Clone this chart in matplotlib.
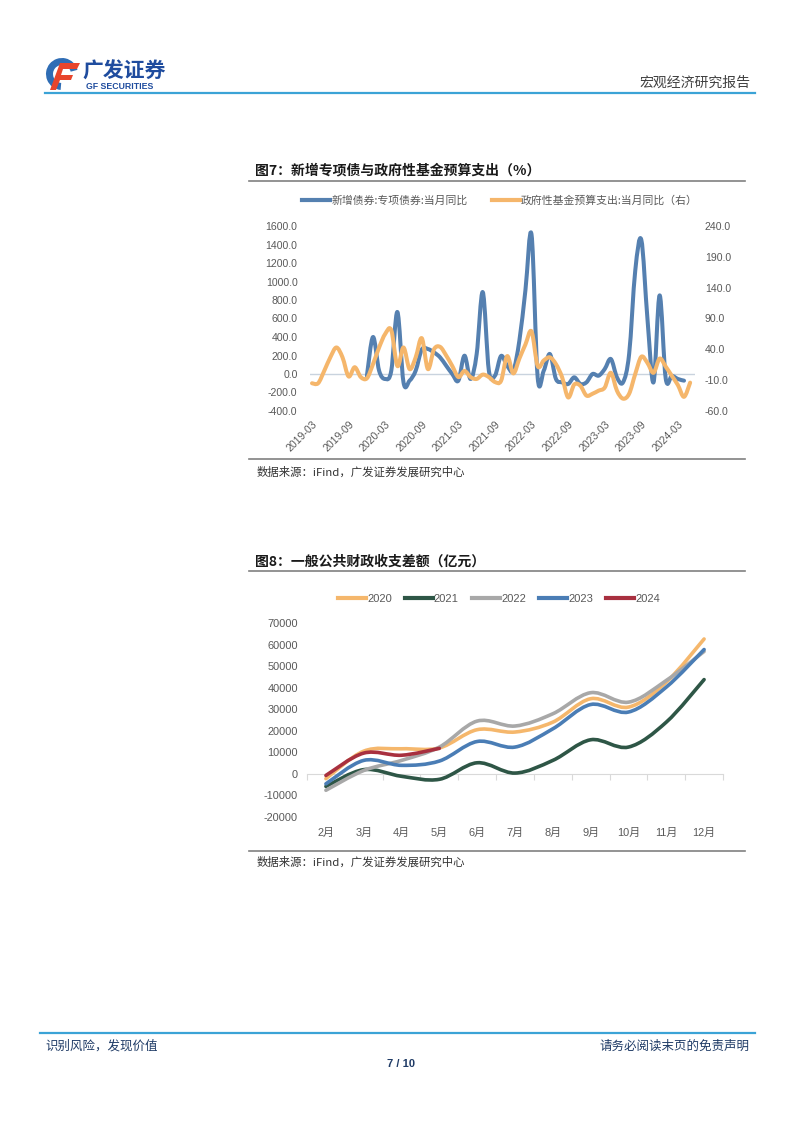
import matplotlib
matplotlib.use('Agg')
import matplotlib.pyplot as plt
import numpy as np
import pandas as pd
from matplotlib.path import Path
from matplotlib.patches import PathPatch, Wedge, Polygon
from matplotlib.lines import Line2D

plt.rcParams['font.family'] = ['Liberation Sans', 'Noto Sans CJK SC', 'DejaVu Sans']
plt.rcParams['axes.unicode_minus'] = False
CJK = ['Noto Sans CJK SC', 'Liberation Sans', 'DejaVu Sans']

# ---------------------------------------------------------------
# data: 图7 (monthly, 2019-03 .. 2024-05)
# ---------------------------------------------------------------
MONTHS = pd.period_range('2019-03', '2024-05', freq='M').strftime('%Y-%m').tolist()
TICK_MONTHS = ['2019-03', '2019-09', '2020-03', '2020-09', '2021-03', '2021-09',
               '2022-03', '2022-09', '2023-03', '2023-09', '2024-03']
nan = np.nan
# 新增债券:专项债券:当月同比 (left axis, %)
ZXZ_YOY = [nan, nan, nan, nan, nan, nan, nan, nan, nan, -20,
           400, 36, -54, 36, 670, -90, -72, 36, 265, 270,
           234, 180, 90, 0, -72, 198, -54, 216, 885, 36,
           -18, 195, 90, 36, 360, 910, 1505, -36, 36, 216,
           -54, -90, -108, -36, -108, -90, 0, -18, 54, 162,
           -36, -90, 216, 1116, 1450, 600, -90, 850, -50, -20,
           -54, -72, nan]
# 政府性基金预算支出:当月同比 (right axis, %)
GOVFUND_YOY = [-15, -15, 5, 27, 43, 27, -4, 11, -5, -7,
               16, 43, 65, 71, 13, 43, 8, 27, 58, 8,
               40, 44, 30, 13, -5, 5, -5, -8, -1, -5,
               -13, -11, 29, 1, 25, 48, 69, 13, 22, 27,
               16, -5, -38, -17, -19, -35, -32, -27, -22, 2,
               -27, -40, -32, 0, 28, 18, 2, 25, 12, -3,
               -18, -37, -14]

# ---------------------------------------------------------------
# data: 图8 一般公共财政收支差额 (亿元)
# ---------------------------------------------------------------
MONTH_LABELS = ['2月', '3月', '4月', '5月', '6月', '7月', '8月', '9月', '10月', '11月', '12月']
GAP_2020 = [-2300, 10500, 11600, 12000, 20500, 19400, 24000, 34900, 31000, 42600, 62700]
GAP_2021 = [-5900, 1900, -1200, -2600, 5100, 300, 6200, 15800, 12400, 24000, 43800]
GAP_2022 = [-7700, 1500, 6200, 12400, 24500, 22200, 27900, 37700, 33300, 43400, 56900]
GAP_2023 = [-4700, 6200, 3900, 5900, 15000, 12400, 20900, 32200, 28700, 40300, 57800]
GAP_2024 = [-800, 9600, 8600, 11800]
YEARS = ['2020', '2021', '2022', '2023', '2024']
YEAR_COLORS = ['#F5B76C', '#2E5646', '#A8A8A8', '#4A7DB5', '#A8303F']

BLUE = '#5580B0'
ORANGE = '#F5B66B'
TICK_GRAY = '#595959'


def smooth_path(xs, ys):
    """Excel-style smoothed line: Catmull-Rom segments as cubic Beziers."""
    verts, codes = [], []
    seg = []
    groups = []
    for x, y in zip(xs, ys):
        if np.isnan(y):
            if seg:
                groups.append(seg)
            seg = []
        else:
            seg.append(np.array((x, y), dtype=float))
    if seg:
        groups.append(seg)
    for pts in groups:
        n = len(pts)
        verts.append(pts[0])
        codes.append(Path.MOVETO)
        for i in range(n - 1):
            p0 = pts[i - 1] if i > 0 else pts[i]
            p1, p2 = pts[i], pts[i + 1]
            p3 = pts[i + 2] if i + 2 < n else pts[i + 1]
            verts += [p1 + (p2 - p0) / 6.0, p2 - (p3 - p1) / 6.0, p2]
            codes += [Path.CURVE4] * 3
    return Path(verts, codes)


def draw_smooth(ax, xs, ys, color, lw, z=3):
    ax.add_patch(PathPatch(smooth_path(xs, ys), fill=False, edgecolor=color, lw=lw,
                           capstyle='round', joinstyle='round', zorder=z))


W, H = 802, 1133
fig = plt.figure(figsize=(W / 100, H / 100), dpi=100)


def fx(x):
    return x / W


def fy(y):
    return 1 - y / H


# page layer in pixel coordinates
page = fig.add_axes([0, 0, 1, 1])
page.set_xlim(0, W)
page.set_ylim(H, 0)
page.axis('off')

# header: logo
page.add_patch(Wedge((62, 74), 16, 95, 345, width=7, facecolor='#2F6DB5', edgecolor='none'))
page.add_patch(Polygon([[60, 63], [80, 63], [77, 69], [63, 69], [61, 75], [73, 75], [71, 80],
                        [60, 80], [56, 90], [50, 90]], closed=True, facecolor='#E8452C',
                       edgecolor='none'))
page.text(82, 71, '广发证券', family=CJK, fontsize=15, fontweight='bold', color='#1F4C9E',
          va='center', ha='left')
page.text(86, 86.5, 'GF SECURITIES', fontsize=6.3, fontweight='bold', color='#1F4C9E',
          va='center', ha='left')
page.text(750, 83, '宏观经济研究报告', family=CJK, fontsize=10, color='#404040',
          va='center', ha='right')
page.plot([45, 755], [92.5, 92.5], color='#3BA3D6', lw=1.6)

# footer
page.plot([40, 755], [1033, 1033], color='#3BA3D6', lw=1.6)
page.text(45, 1046, '识别风险，发现价值', family=CJK, fontsize=9, color='#1F3B66', va='center')
page.text(750, 1046, '请务必阅读末页的免责声明', family=CJK, fontsize=9, color='#1F3B66',
          va='center', ha='right')
page.text(401, 1064, '7 / 10', fontsize=8, fontweight='bold', color='#1F3B66',
          va='center', ha='center')

# chart titles / frame lines / sources
page.text(255, 170, '图7：新增专项债与政府性基金预算支出（%）', family=CJK, fontsize=10,
          fontweight='bold', color='#1A1A1A', va='center')
page.plot([249, 745], [181, 181], color='#808080', lw=1.2)
page.plot([249, 745], [459, 459], color='#808080', lw=1.2)
page.text(257, 472, '数据来源：iFind，广发证券发展研究中心', family=CJK, fontsize=8.2,
          color='#333333', va='center')

page.text(255, 562, '图8：一般公共财政收支差额（亿元）', family=CJK, fontsize=10,
          fontweight='bold', color='#1A1A1A', va='center')
page.plot([249, 745], [571, 571], color='#808080', lw=1.2)
page.plot([249, 745], [851, 851], color='#808080', lw=1.2)
page.text(257, 862, '数据来源：iFind，广发证券发展研究中心', family=CJK, fontsize=8.2,
          color='#333333', va='center')

# ---------------------------------------------------------------
# 图7
# ---------------------------------------------------------------
ax1 = fig.add_axes([fx(310), fy(411), fx(695) - fx(310), (411 - 226) / H])
ax1r = ax1.twinx()
m = np.arange(len(MONTHS))
ax1.set_xlim(-0.33, 62.8)
ax1.set_ylim(-400, 1600)
ax1r.set_ylim(-60, 240)
ax1.axhline(0, color='#C9D3DE', lw=1, zorder=1)
draw_smooth(ax1, m, ZXZ_YOY, BLUE, 2.9, z=3)
ax1r.set_zorder(ax1.get_zorder() + 1)
ax1r.patch.set_visible(False)
draw_smooth(ax1r, m, GOVFUND_YOY, ORANGE, 2.9, z=3)

ax1.set_yticks(np.arange(-400, 1601, 200))
ax1.set_yticklabels([f'{v:.1f}' for v in np.arange(-400, 1601, 200)])
ax1r.set_yticks(np.arange(-60, 241, 50))
ax1r.set_yticklabels([f'{v:.1f}' for v in np.arange(-60, 241, 50)])
ax1.set_xticks([MONTHS.index(t) for t in TICK_MONTHS])
ax1.set_xticklabels(TICK_MONTHS, rotation=45, ha='right', va='top', rotation_mode='anchor')
ax1.tick_params(axis='x', length=0, pad=6, labelsize=7.6, labelcolor=TICK_GRAY)
ax1.tick_params(axis='y', length=0, pad=9, labelsize=7.6, labelcolor=TICK_GRAY)
ax1r.tick_params(axis='y', length=0, pad=7, labelsize=7.6, labelcolor=TICK_GRAY)
for a in (ax1, ax1r):
    for s in a.spines.values():
        s.set_visible(False)

leg1 = ax1.legend(handles=[Line2D([], [], color=BLUE, lw=3),
                           Line2D([], [], color=ORANGE, lw=3)],
                  labels=['新增债券:专项债券:当月同比', '政府性基金预算支出:当月同比（右）'],
                  loc='center', bbox_to_anchor=(fx(500), fy(201)), bbox_transform=fig.transFigure,
                  ncol=2, frameon=False, handlelength=2.6, handletextpad=0.1,
                  columnspacing=2.2, prop={'family': CJK, 'size': 7.8})
for t in leg1.get_texts():
    t.set_color(TICK_GRAY)

# ---------------------------------------------------------------
# 图8
# ---------------------------------------------------------------
ax2 = fig.add_axes([fx(307), fy(816.7), fx(723) - fx(307), (816.7 - 623.3) / H])
k = np.arange(len(MONTH_LABELS))
ax2.set_xlim(-0.5, 10.5)
ax2.set_ylim(-20000, 70000)
for series, c in zip([GAP_2020, GAP_2021, GAP_2022, GAP_2023, GAP_2024], YEAR_COLORS):
    draw_smooth(ax2, k[:len(series)], series, c, 2.6)

for s in ['top', 'right', 'left']:
    ax2.spines[s].set_visible(False)
ax2.spines['bottom'].set_position(('data', 0))
ax2.spines['bottom'].set_color('#D9D9D9')
ax2.set_xticks(np.arange(-0.5, 10.6, 1))
ax2.set_xticklabels([])
ax2.tick_params(axis='x', direction='out', length=4, color='#D9D9D9')
ax2.set_yticks(np.arange(-20000, 70001, 10000))
ax2.tick_params(axis='y', length=0, pad=6.5, labelsize=7.9, labelcolor=TICK_GRAY)

lab = ax2.secondary_xaxis(0)
lab.set_xticks(k)
lab.set_xticklabels(MONTH_LABELS)
lab.spines['bottom'].set_visible(False)
lab.tick_params(length=0, pad=8, labelsize=7.9, labelcolor=TICK_GRAY)

leg2 = ax2.legend(handles=[Line2D([], [], color=c, lw=3) for c in YEAR_COLORS], labels=YEARS,
                  loc='center', bbox_to_anchor=(fx(499), fy(599)), bbox_transform=fig.transFigure,
                  ncol=5, frameon=False, handlelength=2.5, handletextpad=0.1,
                  columnspacing=1.2, prop={'size': 8})
for t in leg2.get_texts():
    t.set_color(TICK_GRAY)

fig.savefig('out.png', dpi=100)
